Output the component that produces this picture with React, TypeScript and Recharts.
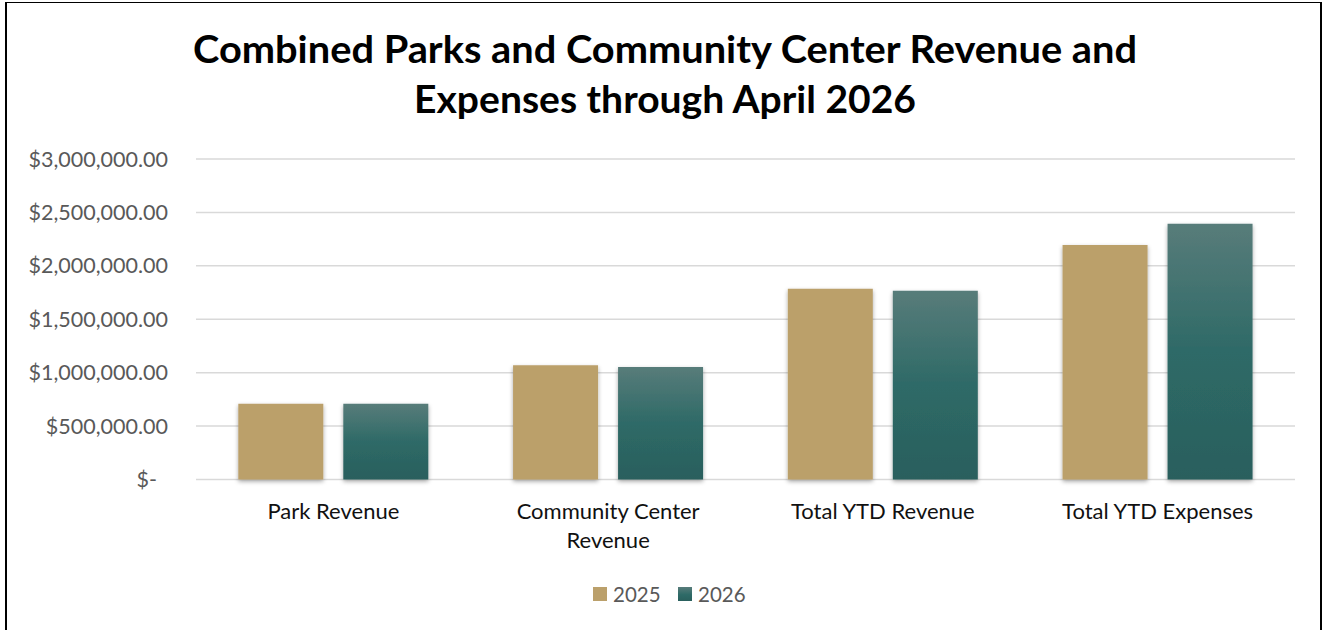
import React from 'react';
import { BarChart, Bar, XAxis, YAxis, CartesianGrid, Legend } from 'recharts';

const categories = ['Park Revenue', 'Community Center Revenue', 'Total YTD Revenue', 'Total YTD Expenses'];
const values2025 = [710000, 1070000, 1785000, 2195000];
const values2026 = [708000, 1054000, 1767000, 2395000];
const seriesNames = ['2025', '2026'];
const yTicks = [0, 500000, 1000000, 1500000, 2000000, 2500000, 3000000];
const titleLines = ['Combined Parks and Community Center Revenue and', 'Expenses through April 2026'];

const data = categories.map((c, i) => ({
  name: c,
  [seriesNames[0]]: values2025[i],
  [seriesNames[1]]: values2026[i],
}));

const FONT = 'Lato, "Open Sans", sans-serif';
const TAN = '#BBA06B';

const fmtMoney = (v: number) =>
  v === 0 ? '$-' : '$' + v.toLocaleString('en-US', { minimumFractionDigits: 2, maximumFractionDigits: 2 });

const wrapLabel = (s: string, max = 18): string[] => {
  if (s.length <= max) return [s];
  const idx = s.lastIndexOf(' ', max);
  if (idx <= 0) return [s];
  return [s.slice(0, idx), s.slice(idx + 1)];
};

const YTick = (props: any) => {
  const { x, y, payload } = props;
  const v = payload.value as number;
  return (
    <text
      x={v === 0 ? x - 11 : x}
      y={y}
      dy="0.355em"
      textAnchor="end"
      fill="#595959"
      fontSize={21.5}
      fontFamily={FONT}
    >
      {fmtMoney(v)}
    </text>
  );
};

const XTick = (props: any) => {
  const { x, y, payload } = props;
  const lines = wrapLabel(String(payload.value));
  return (
    <text x={x} y={y} textAnchor="middle" fill="#111" fontSize={22} fontFamily={FONT}>
      {lines.map((l, i) => (
        <tspan key={i} x={x} dy={i === 0 ? 15 : 29}>
          {l}
        </tspan>
      ))}
    </text>
  );
};

const LegendContent = () => (
  <div style={{ display: 'flex', alignItems: 'center', height: 28, fontFamily: FONT, fontSize: 20.5, color: '#595959' }}>
    {seriesNames.map((n, i) => (
      <div key={n} style={{ display: 'flex', alignItems: 'center' }}>
        <div
          style={{
            width: 14,
            height: 14,
            marginRight: 6,
            background: i === 0 ? TAN : 'linear-gradient(#587C7A, #2E6A67 55%, #2A605D)',
          }}
        />
        <span style={{ width: 65, display: 'inline-block', lineHeight: '28px' }}>{n}</span>
      </div>
    ))}
  </div>
);

export default function App() {
  return (
    <div style={{ position: 'absolute', left: 0, top: 0, width: 1325, height: 630, overflow: 'hidden', background: '#fff' }}>
      <div
        style={{
          position: 'absolute',
          left: 5,
          top: 2,
          width: 1317,
          height: 700,
          borderTop: '1.5px solid #000',
          borderLeft: '2px solid #000',
          borderRight: '2px solid #000',
          boxSizing: 'border-box',
        }}
      />
      <svg width={1325} height={130} style={{ position: 'absolute', left: 0, top: 0 }}>
        <text x={665} y={63} textAnchor="middle" fontFamily={FONT} fontWeight={700} fontSize={38} fill="#000" textLength={944} lengthAdjust="spacingAndGlyphs">
          {titleLines[0]}
        </text>
        <text x={665} y={113} textAnchor="middle" fontFamily={FONT} fontWeight={700} fontSize={38} fill="#000" textLength={502} lengthAdjust="spacingAndGlyphs">
          {titleLines[1]}
        </text>
      </svg>
      <div style={{ position: 'absolute', left: 0, top: 0 }}>
        <BarChart
          width={1325}
          height={630}
          data={data}
          margin={{ top: 159, right: 30, bottom: 0, left: 0 }}
          barCategoryGap="15.4%"
          barGap={20}
        >
          <defs>
            <linearGradient id="tealGrad" x1="0" y1="0" x2="0" y2="1">
              <stop offset="0%" stopColor="#587C7A" />
              <stop offset="50%" stopColor="#2E6A67" />
              <stop offset="100%" stopColor="#2A5F5D" />
            </linearGradient>
            <filter id="barShadow" x="-20%" y="-10%" width="140%" height="130%">
              <feDropShadow dx="0" dy="2" stdDeviation="2" floodColor="#000" floodOpacity="0.35" />
            </filter>
          </defs>
          <CartesianGrid vertical={false} stroke="#D9D9D9" strokeWidth={1.5} />
          <XAxis
            dataKey="name"
            height={150.5}
            axisLine={false}
            tickLine={false}
            tickSize={0}
            tickMargin={24}
            interval={0}
            tick={<XTick />}
          />
          <YAxis
            domain={[0, 3000000]}
            ticks={yTicks}
            width={196}
            axisLine={false}
            tickLine={false}
            tickSize={0}
            tickMargin={28}
            interval={0}
            tick={<YTick />}
          />
          <Legend
            verticalAlign="middle"
            layout="horizontal"
            content={<LegendContent />}
            wrapperStyle={{ left: 593, top: 580, width: 'auto' }}
          />
          <Bar dataKey={seriesNames[0]} fill={TAN} isAnimationActive={false} filter="url(#barShadow)" />
          <Bar dataKey={seriesNames[1]} fill="url(#tealGrad)" isAnimationActive={false} filter="url(#barShadow)" />
        </BarChart>
      </div>
    </div>
  );
}
